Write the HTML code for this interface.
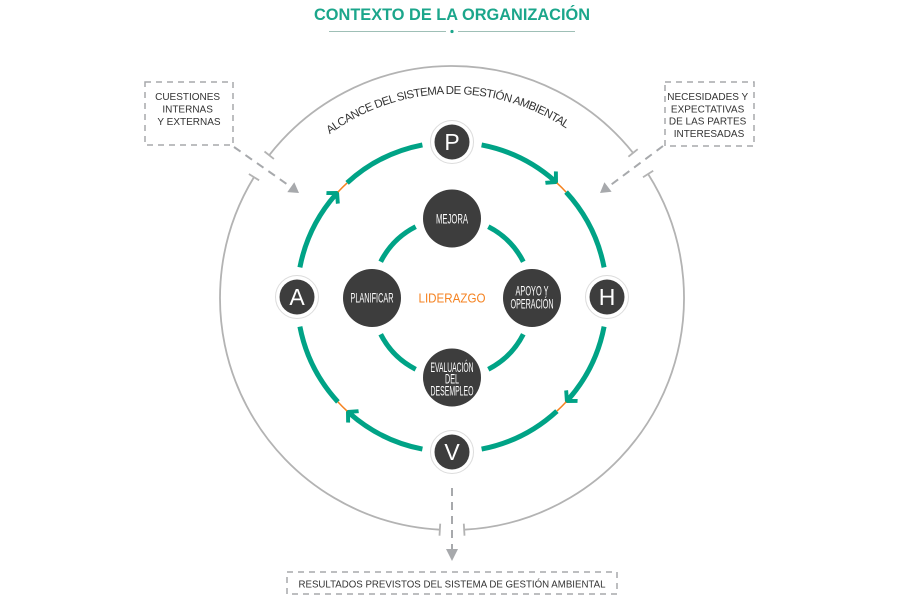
<!DOCTYPE html>
<html>
<head>
<meta charset="utf-8">
<style>
  html,body{margin:0;padding:0;background:#fff;}
  svg{display:block;}
  .box{font-family:"Liberation Sans",sans-serif;font-size:10px;fill:#333;}
  .lbl{font-family:"Liberation Sans Narrow","Liberation Sans",sans-serif;font-size:14px;fill:#fff;}
  .pdca{font-family:"Liberation Sans",sans-serif;font-size:23px;fill:#fff;}
</style>
</head>
<body>
<svg width="900" height="600" viewBox="0 0 900 600" xmlns="http://www.w3.org/2000/svg">
  <rect width="900" height="600" fill="#fff"/>

  <!-- Title -->
  <text x="452" y="20" text-anchor="middle" font-family="Liberation Sans, sans-serif" font-size="17" font-weight="bold" fill="#1ba68b" textLength="276" lengthAdjust="spacingAndGlyphs">CONTEXTO DE LA ORGANIZACIÓN</text>
  <line x1="329" y1="31.5" x2="446" y2="31.5" stroke="#9fbfb6" stroke-width="1"/>
  <line x1="458" y1="31.5" x2="575" y2="31.5" stroke="#9fbfb6" stroke-width="1"/>
  <circle cx="452" cy="31.5" r="1.6" fill="#1ba68b"/>

  <!-- Outer scope circle with gaps -->
  <g fill="none" stroke="#b3b3b3" stroke-width="1.8">
    <path d="M 269.2 155.2 A 232 232 0 0 1 633.1 152.9"/>
    <path d="M 648.1 174.0 A 232 232 0 0 1 464.1 529.7"/>
    <path d="M 439.9 529.7 A 232 232 0 0 1 254.0 177.1"/>
    <line x1="273.9" y1="158.9" x2="264.5" y2="151.5"/>
    <line x1="259.1" y1="180.3" x2="248.9" y2="174.0"/>
    <line x1="628.4" y1="156.7" x2="637.7" y2="149.2"/>
    <line x1="643.0" y1="177.2" x2="653.2" y2="170.8"/>
    <line x1="463.8" y1="523.7" x2="464.5" y2="535.7"/>
    <line x1="440.2" y1="523.7" x2="439.5" y2="535.7"/>
  </g>

  <defs>
    <path id="arcText" d="M 329.7 134.2 A 206 206 0 0 1 567.8 129.6"/>
    <g id="quad">
      <path d="M 481.6 144.9 A 155 155 0 0 1 554.5 180.7" fill="none" stroke="#00a386" stroke-width="5"/>
      <polygon points="1.5,0 -7,-9 -10,-6.5 -4,0 -10,6.5 -7,9" fill="#00a386" transform="translate(556.9 182.9) rotate(42.6)"/>
      <path d="M 556.9 182.9 A 155 155 0 0 1 566.1 192.1" fill="none" stroke="#f58220" stroke-width="1.5"/>
      <path d="M 566.1 192.1 A 155 155 0 0 1 604.1 267.4" fill="none" stroke="#00a386" stroke-width="5"/>
    </g>
    <path id="iq" d="M 488.3 226.7 A 80 80 0 0 1 523.3 261.7" fill="none" stroke="#00a386" stroke-width="5"/>
  </defs>
  <text font-family="Liberation Sans, sans-serif" font-size="11.5" fill="#333">
    <textPath href="#arcText" textLength="252" lengthAdjust="spacing">ALCANCE DEL SISTEMA DE GESTIÓN AMBIENTAL</textPath>
  </text>

  <!-- Dashed boxes -->
  <g fill="none" stroke="#a7a9ac" stroke-width="1.5" stroke-dasharray="6,5">
    <rect x="145" y="82" width="88" height="63"/>
    <rect x="665" y="82" width="89" height="64"/>
    <rect x="287" y="572" width="330" height="22"/>
  </g>
  <text class="box" text-anchor="middle">
    <tspan x="189" y="100">CUESTIONES</tspan>
    <tspan x="189" y="112.5">INTERNAS</tspan>
    <tspan x="189" y="125">Y EXTERNAS</tspan>
  </text>
  <text class="box" text-anchor="middle">
    <tspan x="709" y="100">NECESIDADES Y</tspan>
    <tspan x="709" y="112.3">EXPECTATIVAS</tspan>
    <tspan x="709" y="124.6">DE LAS PARTES</tspan>
    <tspan x="709" y="137">INTERESADAS</tspan>
  </text>
  <text class="box" x="452" y="587.5" text-anchor="middle" font-size="10.5" textLength="307" lengthAdjust="spacingAndGlyphs">RESULTADOS PREVISTOS DEL SISTEMA DE GESTIÓN AMBIENTAL</text>

  <!-- Dashed arrows -->
  <g stroke="#a7a9ac" stroke-width="2" stroke-dasharray="8,6" fill="none">
    <line x1="234" y1="147" x2="291" y2="187"/>
    <line x1="663" y1="146" x2="608" y2="187"/>
    <line x1="452" y1="488" x2="452" y2="550"/>
  </g>
  <g fill="#a7a9ac">
    <polygon points="299,193 294.3,182.3 287.3,192.1"/>
    <polygon points="600,193 611.6,191.8 604.4,182.2"/>
    <polygon points="452,561 446,549 458,549"/>
  </g>

  <!-- PDCA ring -->
  <use href="#quad"/>
  <use href="#quad" transform="rotate(90 452 297)"/>
  <use href="#quad" transform="rotate(180 452 297)"/>
  <use href="#quad" transform="rotate(270 452 297)"/>

  <!-- Inner ring -->
  <use href="#iq"/>
  <use href="#iq" transform="rotate(90 452 298)"/>
  <use href="#iq" transform="rotate(180 452 298)"/>
  <use href="#iq" transform="rotate(270 452 298)"/>

  <!-- PDCA nodes -->
  <g>
    <circle cx="452" cy="142" r="21.5" fill="#fff" stroke="#dcdcdc" stroke-width="1"/>
    <circle cx="452" cy="142" r="17.5" fill="#3d3d3d"/>
    <text class="pdca" x="452" y="150" text-anchor="middle">P</text>

    <circle cx="607" cy="297" r="21.5" fill="#fff" stroke="#dcdcdc" stroke-width="1"/>
    <circle cx="607" cy="297" r="17.5" fill="#3d3d3d"/>
    <text class="pdca" x="607" y="305" text-anchor="middle">H</text>

    <circle cx="452" cy="452" r="21.5" fill="#fff" stroke="#dcdcdc" stroke-width="1"/>
    <circle cx="452" cy="452" r="17.5" fill="#3d3d3d"/>
    <text class="pdca" x="452" y="460" text-anchor="middle">V</text>

    <circle cx="297" cy="297" r="21.5" fill="#fff" stroke="#dcdcdc" stroke-width="1"/>
    <circle cx="297" cy="297" r="17.5" fill="#3d3d3d"/>
    <text class="pdca" x="297" y="305" text-anchor="middle">A</text>
  </g>

  <!-- Inner nodes -->
  <circle cx="452" cy="218.5" r="29" fill="#3d3d3d"/>
  <text class="lbl" x="452" y="223.5" text-anchor="middle" textLength="32" lengthAdjust="spacingAndGlyphs">MEJORA</text>

  <circle cx="372" cy="298" r="29" fill="#3d3d3d"/>
  <text class="lbl" x="372" y="302.5" text-anchor="middle" textLength="43" lengthAdjust="spacingAndGlyphs">PLANIFICAR</text>

  <circle cx="532" cy="298" r="29" fill="#3d3d3d"/>
  <text class="lbl" x="532" y="295.5" text-anchor="middle" font-size="12.5" textLength="33" lengthAdjust="spacingAndGlyphs">APOYO Y</text>
  <text class="lbl" x="532" y="308.5" text-anchor="middle" font-size="12.5" textLength="43" lengthAdjust="spacingAndGlyphs">OPERACIÓN</text>

  <circle cx="452" cy="377.5" r="29" fill="#3d3d3d"/>
  <text class="lbl" x="452" y="372" text-anchor="middle" font-size="12.5" textLength="43" lengthAdjust="spacingAndGlyphs">EVALUACIÓN</text>
  <text class="lbl" x="452" y="383.5" text-anchor="middle" font-size="12.5" textLength="14" lengthAdjust="spacingAndGlyphs">DEL</text>
  <text class="lbl" x="452" y="395.5" text-anchor="middle" font-size="12.5" textLength="43" lengthAdjust="spacingAndGlyphs">DESEMPLEO</text>

  <!-- Center label -->
  <text x="452" y="302.5" text-anchor="middle" font-family="Liberation Sans, sans-serif" font-size="13" fill="#f58220" textLength="67" lengthAdjust="spacingAndGlyphs">LIDERAZGO</text>
</svg>
</body>
</html>
